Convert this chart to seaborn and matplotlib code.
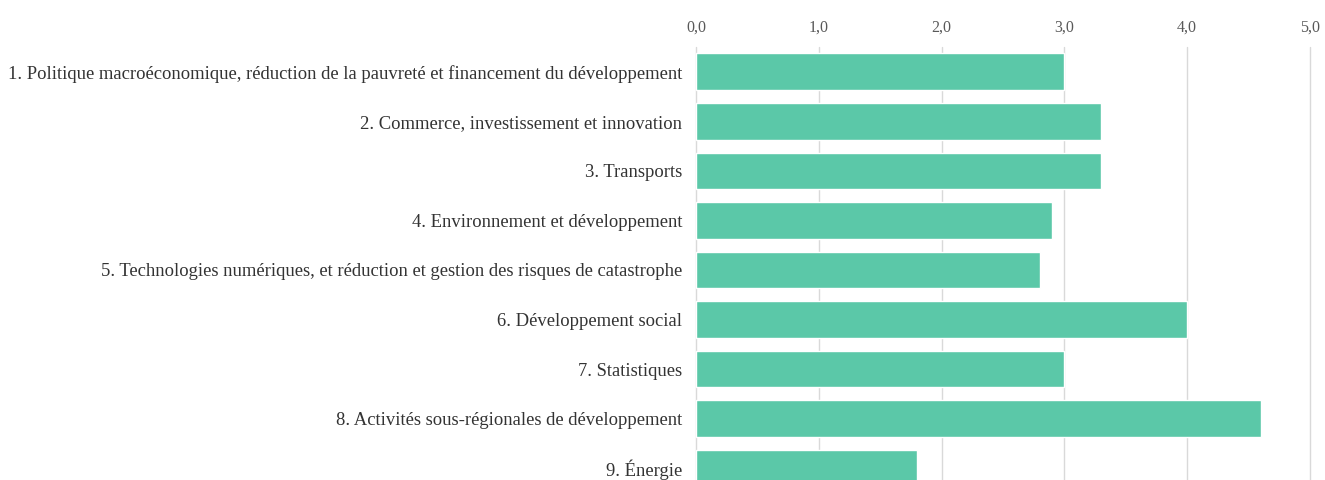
import matplotlib
matplotlib.use("Agg")
import matplotlib.pyplot as plt
import matplotlib.ticker as mticker
import pandas as pd
import seaborn as sns

categories = [
    "1. Politique macroéconomique, réduction de la pauvreté et financement du développement",
    "2. Commerce, investissement et innovation",
    "3. Transports",
    "4. Environnement et développement",
    "5. Technologies numériques, et réduction et gestion des risques de catastrophe",
    "6. Développement social",
    "7. Statistiques",
    "8. Activités sous-régionales de développement",
    "9. Énergie",
]
values = [3.0, 3.3, 3.3, 2.9, 2.8, 4.0, 3.0, 4.6, 1.8]
x_ticks = [0, 1, 2, 3, 4, 5]

df = pd.DataFrame({"programme": categories, "valeur": values})

sns.set_theme(style="white")
plt.rcParams["font.family"] = ["Liberation Serif", "DejaVu Serif"]

fig = plt.figure(figsize=(13.25, 4.8), dpi=100)
ax = fig.add_axes([696 / 1325, 0.0, (1310 - 696) / 1325, 1 - 47 / 480])

sns.barplot(data=df, x="valeur", y="programme", orient="h",
            color="#5BC8A8", saturation=1, width=0.74, ax=ax, zorder=3)

ax.set_xlim(0, 5)
ax.set_ylim(8.24, -0.5)
ax.set_xticks(x_ticks)
ax.xaxis.set_major_formatter(mticker.FuncFormatter(lambda v, p: f"{v:.1f}".replace(".", ",")))
ax.xaxis.tick_top()
ax.xaxis.set_label_position("top")
ax.set_xlabel("")
ax.set_ylabel("")
ax.grid(axis="x", color="#d9d9d9", linewidth=1, zorder=0)
ax.grid(axis="y", visible=False)
for line in ax.get_xgridlines():
    line.set_clip_on(False)
for s in ax.spines.values():
    s.set_visible(False)
ax.tick_params(axis="x", length=0, pad=8.5, labelsize=11.5, labelcolor="#595959")
ax.tick_params(axis="y", length=0, pad=10, labelsize=13.4, labelcolor="#333333")

fig.savefig("out.png", dpi=100)
